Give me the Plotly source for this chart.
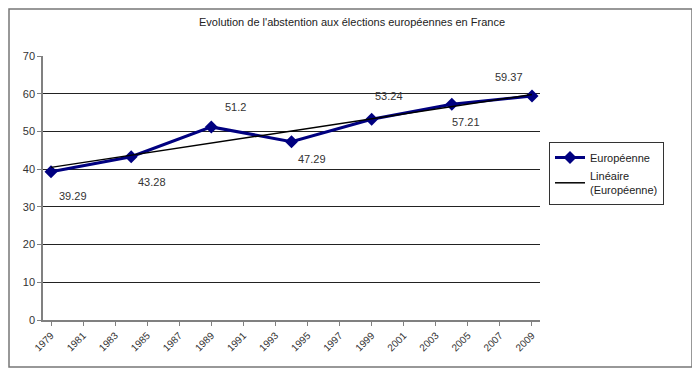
import numpy as np
import plotly.graph_objects as go

# Data
years = [1979, 1984, 1989, 1994, 1999, 2004, 2009]
abstention = [39.29, 43.28, 51.2, 47.29, 53.24, 57.21, 59.37]
tick_years = list(range(1979, 2010, 2))
y_ticks = [0, 10, 20, 30, 40, 50, 60, 70]
title_text = "Evolution de l'abstention aux élections européennes en France"
series_name = "Européenne"
trend_name = "Linéaire<br>(Européenne)"

# Linear trend (Excel "Linéaire")
coef = np.polyfit(years, abstention, 1)
trend_x = [years[0], years[-1]]
trend_y = [float(np.polyval(coef, x)) for x in trend_x]

# Label offsets in pixels (xshift, yshift)
label_offsets = [(22, -24), (21, -25), (24, 20), (20, -17), (17, 23), (14, -18), (-23, 19)]

OFF = 8  # page body margin
W, H = 700 - OFF, 372 - OFF
# plot area in page pixels
PL, PR, PT, PB = 43, 540, 56, 320
L, R, T, B = PL - OFF, PR - OFF, PT - OFF, PB - OFF

FONT = "Liberation Sans, Arial, sans-serif"

fig = go.Figure()
fig.add_trace(go.Scatter(
    x=years, y=abstention, name=series_name, mode="lines+markers",
    line=dict(color="#000080", width=3),
    marker=dict(symbol="diamond", size=10, color="#000080"),
))
fig.add_trace(go.Scatter(
    x=trend_x, y=trend_y, name=trend_name, mode="lines",
    line=dict(color="black", width=1.5),
))

for x, y, (dx, dy) in zip(years, abstention, label_offsets):
    fig.add_annotation(x=x, y=y, text=f"{y:g}", showarrow=False,
                       xshift=dx, yshift=dy,
                       font=dict(family=FONT, size=11, color="#333333"))

def page_x(px):
    return (px - OFF - L) / (R - L)

def page_y(py):
    return (B - (py - OFF)) / (B - T)

# Outer border
fig.add_shape(type="rect", xref="paper", yref="paper",
              x0=page_x(OFF + 1), x1=page_x(692),
              y0=page_y(367), y1=page_y(OFF + 1),
              line=dict(color="#777777", width=1.5), fillcolor="rgba(0,0,0,0)",
              layer="below")

fig.update_layout(
    width=W, height=H,
    margin=dict(l=L, r=W - R, t=T, b=H - B, pad=0),
    paper_bgcolor="white", plot_bgcolor="white",
    font=dict(family=FONT, size=11, color="#333333"),
    title=dict(text=title_text, x=(352 - OFF) / W, xref="container",
               y=1 - (22 - OFF) / H, yanchor="middle",
               xanchor="center", font=dict(family=FONT, size=11, color="#222222")),
    showlegend=True,
    legend=dict(x=page_x(549), y=page_y(142), xanchor="left", yanchor="top",
                bordercolor="#333333", borderwidth=1, bgcolor="white",
                font=dict(family=FONT, size=11, color="#222222"),
                tracegroupgap=8, itemwidth=30),
    xaxis=dict(range=[1978.5, 2009.5], tickmode="array", tickvals=tick_years,
               ticktext=[str(y) for y in tick_years], tickangle=-45,
               showgrid=False, zeroline=False, showline=True, linecolor="#808080",
               linewidth=1.5, ticks="outside", ticklen=4, tickcolor="#808080",
               tickfont=dict(family=FONT, size=10, color="#333333")),
    yaxis=dict(range=[0, 70], tickmode="array", tickvals=y_ticks,
               showgrid=True, gridcolor="#222222", gridwidth=1, zeroline=False,
               showline=True, linecolor="#808080", linewidth=1.5,
               ticks="outside", ticklen=4, tickcolor="#808080",
               tickfont=dict(family=FONT, size=11, color="#333333")),
)

fig.write_html("out.html")
